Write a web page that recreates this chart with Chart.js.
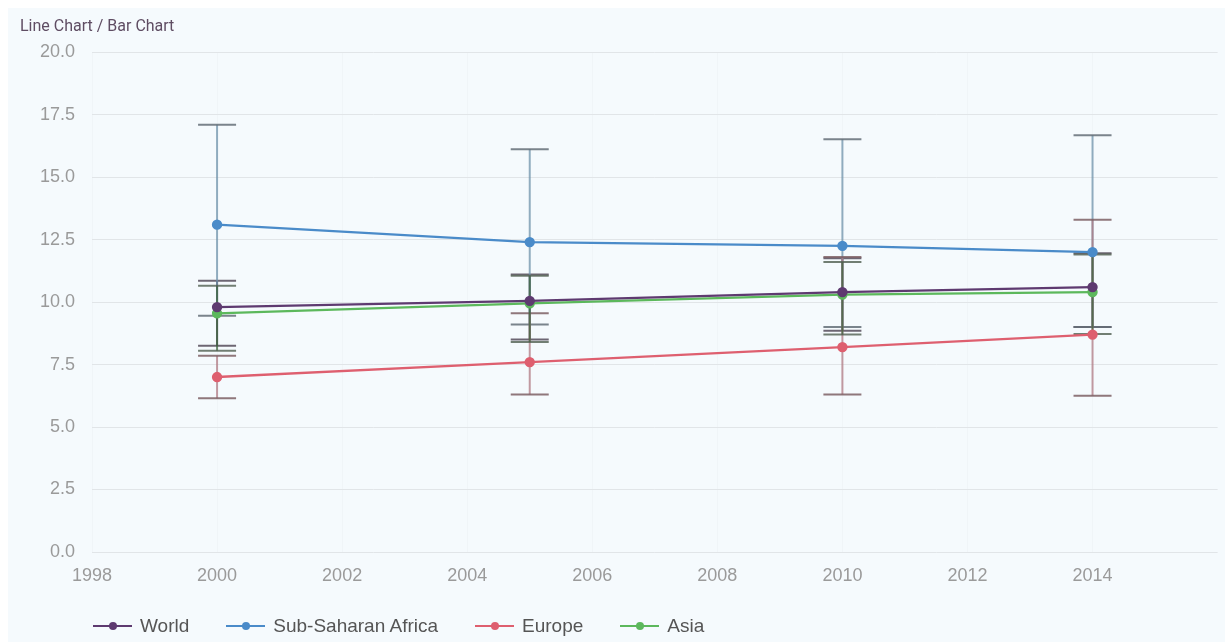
<!DOCTYPE html>
<html>
<head>
<meta charset="utf-8">
<script src="https://cdn.jsdelivr.net/npm/chart.js@4/dist/chart.umd.min.js"></script>
<style>
  html, body { margin: 0; padding: 0; background: #ffffff; }
  #panel { position: absolute; left: 8px; top: 8px; width: 1217px; height: 634px; background: #f5fafd; overflow: hidden; }
  #chart { display: block; }
  #legend { position: absolute; left: 85px; top: 607px; height: 22px; display: flex; align-items: center; gap: 37px;
            font: 19px "Liberation Sans", Arial, sans-serif; color: #555555; }
  #legend .item { display: flex; align-items: center; white-space: nowrap; }
  #legend .mark { position: relative; width: 39px; height: 2px; margin-right: 8px; }
  #legend .mark i { position: absolute; left: 15.5px; top: -3px; width: 8px; height: 8px; border-radius: 50%; }
</style>
</head>
<body>
<div id="panel">
  <canvas id="chart" width="1217" height="634"></canvas>
  <div id="legend"></div>
</div>
<script>
// Survey years
const years = [2000, 2005, 2010, 2014];

// Series values with lower / upper error bounds
const world      = [9.8, 10.05, 10.4, 10.6];
const worldLow   = [8.25, 8.5, 8.85, 9.0];
const worldHigh  = [10.85, 11.1, 11.75, 11.95];

const ssa        = [13.1, 12.4, 12.25, 12.0];
const ssaLow     = [9.45, 9.1, 9.0, 9.0];
const ssaHigh    = [17.1, 16.12, 16.52, 16.68];

const europe     = [7.0, 7.6, 8.2, 8.7];
const europeLow  = [6.15, 6.3, 6.3, 6.25];
const europeHigh = [7.85, 9.55, 11.8, 13.3];

const asia       = [9.55, 9.95, 10.3, 10.4];
const asiaLow    = [8.05, 8.4, 8.7, 8.72];
const asiaHigh   = [10.65, 11.05, 11.6, 11.9];

// Axis ranges
const xRange = [1998, 2016];
const yRange = [0, 20];

function series(label, values, low, high, color, errColor, capColor) {
  return {
    label,
    data: years.map((yr, i) => ({ x: yr, y: values[i] })),
    errLow: low,
    errHigh: high,
    errColor,
    capColor,
    borderColor: color,
    backgroundColor: color,
    pointBackgroundColor: color,
    pointBorderColor: color,
    borderWidth: 2.4,
    pointRadius: 4,
    pointHoverRadius: 5,
    tension: 0
  };
}

// Vertical error bars with whiskers, drawn beneath the lines
const errorBars = {
  id: 'errorBars',
  beforeDatasetsDraw(chart) {
    const { ctx, scales: { x, y } } = chart;
    chart.data.datasets.forEach((ds, i) => {
      if (!chart.isDatasetVisible(i)) return;
      ds.data.forEach((pt, j) => {
        const px = x.getPixelForValue(pt.x);
        const yl = y.getPixelForValue(ds.errLow[j]);
        const yh = y.getPixelForValue(ds.errHigh[j]);
        ctx.save();
        ctx.lineWidth = 2;
        ctx.strokeStyle = ds.errColor;
        ctx.beginPath();
        ctx.moveTo(px, yl);
        ctx.lineTo(px, yh);
        ctx.stroke();
        ctx.strokeStyle = ds.capColor;
        ctx.beginPath();
        ctx.moveTo(px - 19, yl); ctx.lineTo(px + 19, yl);
        ctx.moveTo(px - 19, yh); ctx.lineTo(px + 19, yh);
        ctx.stroke();
        ctx.restore();
      });
    });
  }
};

const tickFont = { family: '"Liberation Sans", Arial, sans-serif', size: 18 };

const chart = new Chart(document.getElementById('chart'), {
  type: 'line',
  data: {
    datasets: [
      series('World', world, worldLow, worldHigh, '#5e3a70', 'rgba(70,50,80,0.75)', 'rgba(75,65,80,0.8)'),
      series('Sub-Saharan Africa', ssa, ssaLow, ssaHigh, '#4a8bc9', 'rgba(110,145,170,0.75)', 'rgba(100,110,120,0.85)'),
      series('Europe', europe, europeLow, europeHigh, '#de5f6f', 'rgba(175,120,130,0.75)', 'rgba(125,95,100,0.85)'),
      series('Asia', asia, asiaLow, asiaHigh, '#5cb85c', 'rgba(60,100,60,0.75)', 'rgba(80,95,80,0.8)')
    ]
  },
  options: {
    responsive: false,
    animation: false,
    layout: { padding: { left: 12, right: 0, top: 0, bottom: 50 } },
    plugins: {
      legend: { display: false },
      tooltip: { enabled: true },
      title: {
        display: true,
        text: 'Line Chart / Bar Chart',
        align: 'start',
        color: '#5f4d63',
        font: { family: 'Roboto, sans-serif', size: 16, weight: 'normal' },
        padding: { top: 9, bottom: 16 }
      }
    },
    scales: {
      x: {
        type: 'linear',
        min: xRange[0],
        max: xRange[1],
        ticks: { stepSize: 2, color: '#9a9a9a', font: tickFont, padding: 13, maxRotation: 0,
                 callback: v => String(v) },
        grid: { color: 'rgba(0,0,0,0.018)', drawTicks: false },
        border: { display: false },
        afterBuildTicks: s => { s.ticks = s.ticks.filter(t => t.value < xRange[1]); },
        afterFit: s => { s.height = 40; }
      },
      y: {
        min: yRange[0],
        max: yRange[1],
        ticks: { stepSize: 2.5, color: '#9a9a9a', font: tickFont, padding: 17,
                 callback: v => Number(v).toFixed(1) },
        grid: { color: '#e1e5e8', drawTicks: false },
        border: { display: false },
        afterFit: s => { s.width = 72; }
      }
    }
  },
  plugins: [errorBars]
});

// Legend built from the chart's own legend items
const legendEl = document.getElementById('legend');
chart.options.plugins.legend.labels.generateLabels(chart).forEach(item => {
  const el = document.createElement('div');
  el.className = 'item';
  const mark = document.createElement('span');
  mark.className = 'mark';
  mark.style.background = item.strokeStyle;
  const dot = document.createElement('i');
  dot.style.background = item.strokeStyle;
  mark.appendChild(dot);
  const txt = document.createElement('span');
  txt.textContent = item.text;
  el.appendChild(mark);
  el.appendChild(txt);
  legendEl.appendChild(el);
});
</script>
</body>
</html>
